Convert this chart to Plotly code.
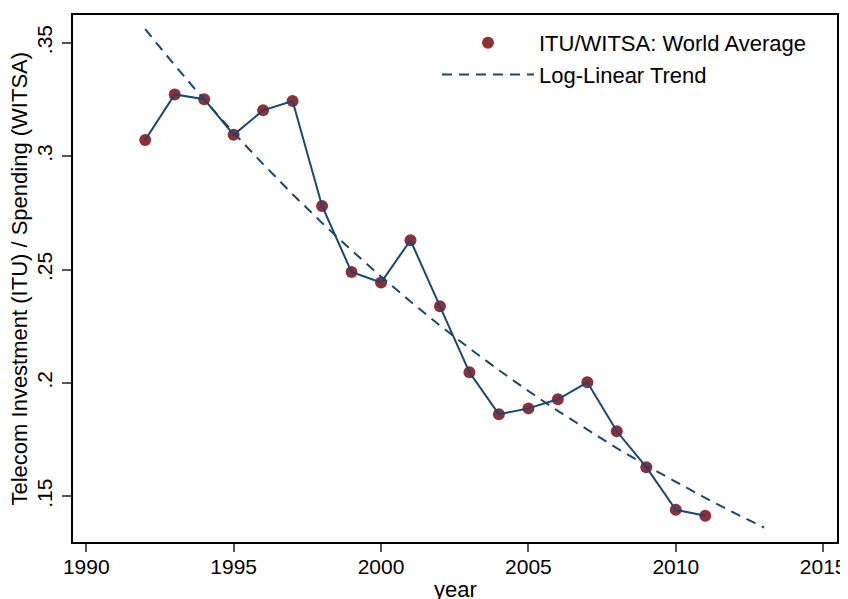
import numpy as np
import plotly.graph_objects as go

years = [1992, 1993, 1994, 1995, 1996, 1997, 1998, 1999, 2000, 2001,
         2002, 2003, 2004, 2005, 2006, 2007, 2008, 2009, 2010, 2011]
ratio = [0.3071, 0.3272, 0.3251, 0.3094, 0.3202, 0.3243, 0.2780, 0.2489, 0.2443, 0.2629,
         0.2338, 0.2047, 0.1862, 0.1888, 0.1928, 0.2003, 0.1787, 0.1629, 0.1441, 0.1415]
trend_years = list(range(1992, 2014))
x_ticks = [1990, 1995, 2000, 2005, 2010, 2015]
y_ticks = [0.15, 0.2, 0.25, 0.3, 0.35]
y_tick_text = [".15", ".2", ".25", ".3", ".35"]

# log-linear fit of the series
b, a = np.polyfit(np.array(years), np.log(np.array(ratio)), 1)
trend = np.exp(a + b * np.array(trend_years))

MAROON = "#8e3039"
NAVY = "#1a476f"
FONT = "Liberation Sans, Arial, Helvetica, sans-serif"

fig = go.Figure()
fig.add_trace(go.Scatter(x=years, y=ratio, mode="markers", name="ITU/WITSA: World Average",
                         marker=dict(color=MAROON, size=12)))
fig.add_trace(go.Scatter(x=years, y=ratio, mode="lines", showlegend=False,
                         line=dict(color=NAVY, width=2)))
fig.add_trace(go.Scatter(x=trend_years, y=trend, mode="lines", name="Log-Linear Trend",
                         line=dict(color=NAVY, width=2, dash="10px,7px")))

fig.update_layout(
    width=840, height=591,
    margin=dict(l=65, r=11, t=7, b=57, autoexpand=False),
    paper_bgcolor="white", plot_bgcolor="white",
    font=dict(family=FONT, size=22, color="black"),
    showlegend=True,
    legend=dict(x=(429 - 65) / 764, y=1 - 7 / 527, xanchor="left", yanchor="top",
                bgcolor="rgba(0,0,0,0)", font=dict(size=22), itemwidth=92,
                tracegroupgap=0),
)
fig.update_xaxes(range=[1989.55, 2015.47], tickvals=x_ticks, showgrid=False, zeroline=False,
                 showline=True, linecolor="black", linewidth=1.5, mirror=True,
                 ticks="outside", ticklen=8, tickwidth=1.5, tickcolor="#555",
                 tickfont=dict(size=21), automargin=False, ticklabelstandoff=-3)
fig.update_yaxes(range=[0.1299, 0.3622], tickvals=y_ticks, ticktext=y_tick_text, showgrid=False,
                 zeroline=False, showline=True, linecolor="black", linewidth=1.5, mirror=True,
                 ticks="outside", ticklen=9, tickwidth=1.5, tickcolor="#555",
                 tickangle=-90, tickfont=dict(size=21), automargin=False, ticklabelstandoff=2)
fig.add_annotation(text="year", xref="paper", yref="paper", x=0.5, y=0, yshift=-47,
                   xanchor="center", yanchor="middle", showarrow=False, font=dict(size=22))
fig.add_annotation(text="Telecom Investment (ITU) / Spending (WITSA)", xref="paper", yref="paper",
                   x=0, y=0.5, xshift=-54, textangle=-90, xanchor="center", yanchor="middle",
                   showarrow=False, font=dict(size=22))

fig.write_html("out.html")
